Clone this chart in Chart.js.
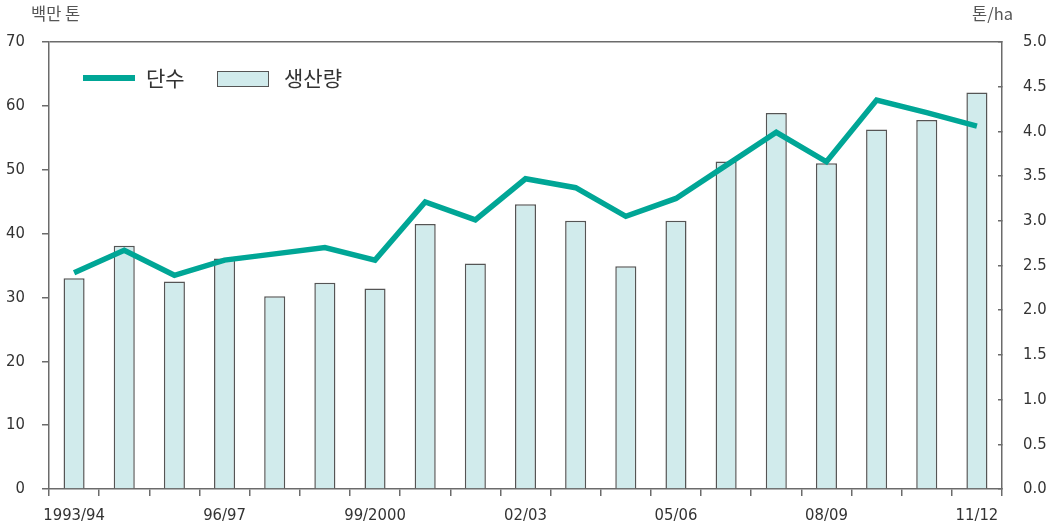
<!DOCTYPE html>
<html>
<head>
<meta charset="utf-8">
<script src="https://cdn.jsdelivr.net/npm/chart.js@4.4.1/dist/chart.umd.min.js"></script>
<style>
  body { margin: 0; background: #fff; }
  #wrap { position: relative; width: 1053px; height: 531px; }
  .note { position: absolute; font-family: "Noto Sans CJK KR", sans-serif; color: #555; font-size: 16.5px; }
  .leg-text { position: absolute; font-family: "Noto Sans CJK KR", sans-serif; color: #333; font-size: 21px; }
</style>
</head>
<body>
<div id="wrap">
  <canvas id="grafico"></canvas>
  <div class="note" style="left:31px; top:1px;">백만 톤</div>
  <div class="note" style="left:972px; top:1px;">톤/ha</div>
  <div style="position:absolute; left:83px; top:75px; width:52px; height:6px; background:#00a696;"></div>
  <div class="leg-text" style="left:146px; top:62px;">단수</div>
  <div style="position:absolute; left:217px; top:71px; width:50px; height:14px; background:#d1ebec; border:1.5px solid #555;"></div>
  <div class="leg-text" style="left:284px; top:62px;">생산량</div>
</div>
<script>
// 연도
const anos = ['1993/94', '94/95', '95/96', '96/97', '97/98', '98/99', '99/2000', '2000/01', '01/02',
  '02/03', '03/04', '04/05', '05/06', '06/07', '07/08', '08/09', '09/10', '10/11', '11/12'];
// 생산량 (백만 톤)
const producao = [33.0, 38.1, 32.5, 36.1, 30.2, 32.3, 31.4, 41.5, 35.3, 44.6, 42.0, 34.9, 42.0, 51.3, 58.9, 51.0, 56.3, 57.8, 62.1];
// 단수 (톤/ha)
const rendimento = [2.42, 2.67, 2.39, 2.56, 2.63, 2.70, 2.56, 3.21, 3.01, 3.47, 3.37, 3.05, 3.25, 3.62, 3.99, 3.66, 4.35, 4.21, 4.06];
// 표시할 x축 라벨
const rotulos_x = ['1993/94', '96/97', '99/2000', '02/03', '05/06', '08/09', '11/12'];

const teal = '#00a696';
const axisColor = '#6b6b6b';
const tickFont = { family: '"DejaVu Sans Condensed", "Liberation Sans Narrow", sans-serif', size: 16.5 };

const ctx = document.getElementById('grafico').getContext('2d');

new Chart(ctx, {
  type: 'bar',
  data: {
    labels: anos,
    datasets: [
      {
        type: 'line',
        label: '단수',
        data: rendimento,
        yAxisID: 'y1',
        borderColor: teal,
        borderWidth: 5.5,
        borderJoinStyle: 'miter',
        pointRadius: 0,
        tension: 0,
        order: 1
      },
      {
        label: '생산량',
        data: producao,
        yAxisID: 'y',
        backgroundColor: '#d1ebec',
        borderColor: '#555',
        borderWidth: 1.5,
        barPercentage: 0.42,
        categoryPercentage: 1,
        order: 2
      }
    ]
  },
  options: {
    responsive: true,
    maintainAspectRatio: false,
    animation: false,
    layout: { padding: { top: 42 } },
    scales: {
      x: {
        grid: { drawOnChartArea: false, tickLength: 7, color: axisColor, lineWidth: 1.5, offset: true },
        border: { color: axisColor, width: 1.5 },
        ticks: {
          autoSkip: false,
          maxRotation: 0,
          padding: 10,
          color: '#333',
          font: tickFont,
          callback: function(v, i) {
            return rotulos_x.includes(anos[i]) ? anos[i] : '';
          }
        },
        afterFit: function(s) { s.height = 42; }
      },
      y: {
        position: 'left',
        min: 0,
        max: 70,
        grid: {
          color: c => c.tick && c.tick.value === 70 ? axisColor : 'rgba(0,0,0,0)',
          tickColor: axisColor,
          lineWidth: 1.5,
          tickLength: 7
        },
        border: { color: axisColor, width: 1.5 },
        ticks: { stepSize: 10, padding: 17, color: '#333', font: tickFont },
        afterFit: function(s) { s.width = 49; }
      },
      y1: {
        position: 'right',
        min: 0,
        max: 5,
        grid: { drawOnChartArea: false, tickLength: -4, color: axisColor, lineWidth: 1.5 },
        border: { color: axisColor, width: 1.5 },
        ticks: {
          stepSize: 0.5,
          padding: 25,
          color: '#333',
          font: tickFont,
          callback: v => v.toFixed(1)
        },
        afterFit: function(s) { s.width = 51; }
      }
    },
    plugins: {
      legend: { display: false },
      tooltip: { enabled: false }
    }
  }
});
</script>
</body>
</html>
